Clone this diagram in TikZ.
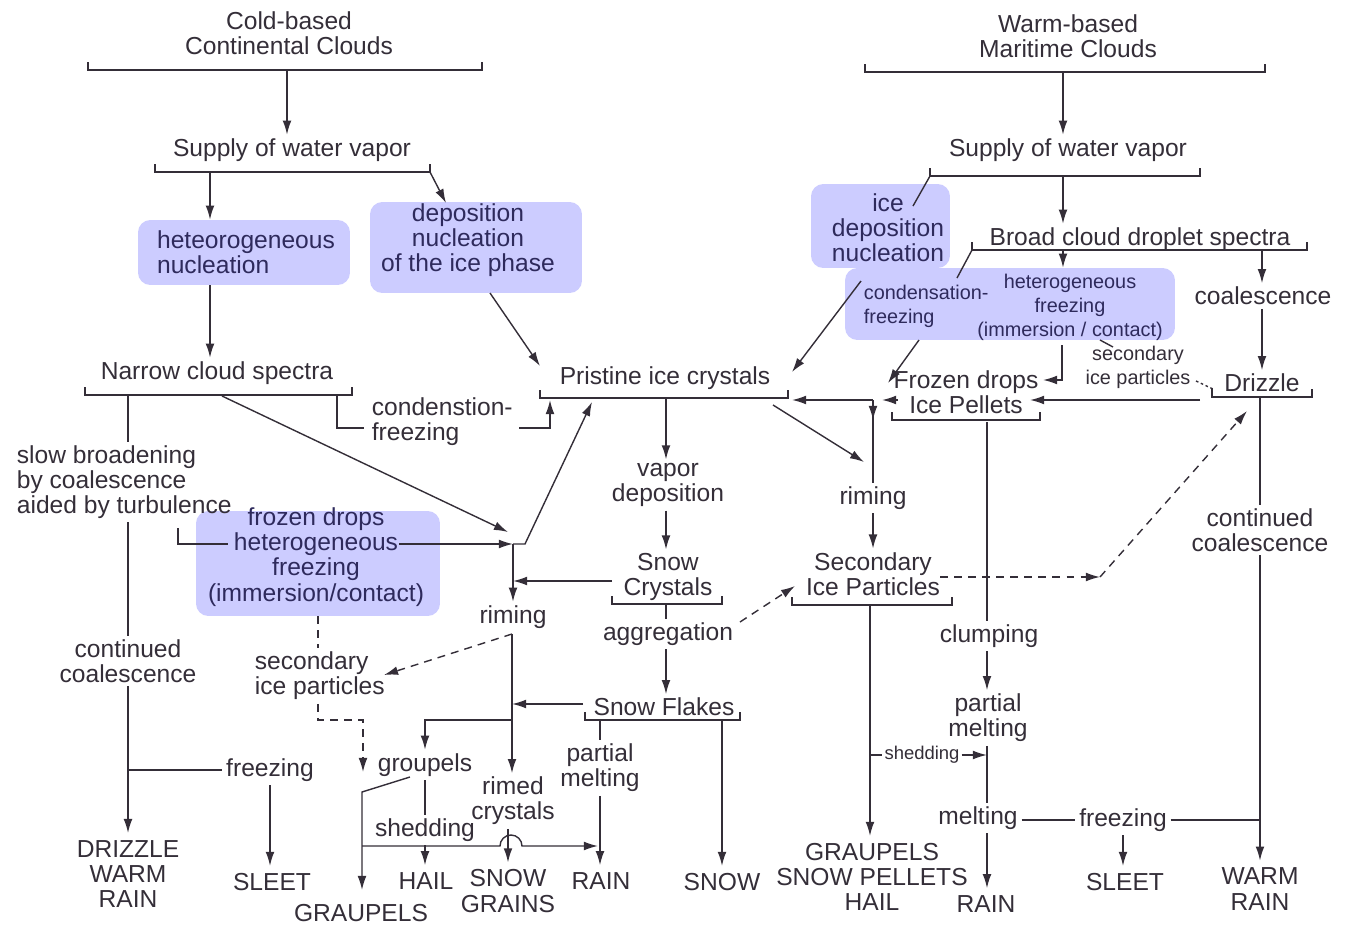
\documentclass[tikz,border=0pt]{standalone}
\usepackage{fontspec}
\setmainfont{Liberation Sans}
\usetikzlibrary{arrows.meta}

\definecolor{ink}{RGB}{52,46,56}
\definecolor{lav}{RGB}{204,204,255}
\definecolor{boxink}{RGB}{46,42,92}

\newcommand{\fsMain}{\fontsize{14}{14.3}\selectfont}
\newcommand{\fsSmall}{\fontsize{11.3}{13.6}\selectfont}
\newcommand{\fsTiny}{\fontsize{10.5}{11}\selectfont}
% bracket under a label: x-left, x-right, y of the bar
\newcommand{\brk}[3]{\draw[ln] (#1,#3-8) |- (#2,#3) -- (#2,#3-8);}

\begin{document}
\begin{tikzpicture}[
    x=0.02cm, y=-0.02cm,
    lbl/.style={text=ink, align=center, inner sep=2pt, font=\fsMain},
    sml/.style={lbl, font=\fsSmall},
    tny/.style={lbl, font=\fsTiny},
    res/.style={lbl, inner sep=4pt},
    btx/.style={lbl, text=boxink},
    bsm/.style={btx, font=\fsSmall},
    blu/.style={rectangle, rounded corners=7pt, fill=lav, draw=none, inner sep=0pt},
    ln/.style={draw=ink, line width=0.8pt},
    arr/.style={ln, -{Latex[length=8pt,width=5pt]}},
    darr/.style={arr, dash pattern=on 4.5pt off 3.5pt},
    dln/.style={ln, dash pattern=on 4.5pt off 3.5pt}
]
\useasboundingbox (0,0) rectangle (1347,927);

%% ── Shaded process boxes ─────────────────────────────────────────────────────
\node[blu, minimum width=4.24cm, minimum height=1.30cm] (hnbox)  at (244,252.5) {};
\node[blu, minimum width=4.24cm, minimum height=1.82cm] (dnbox)  at (476,247.5) {};
\node[blu, minimum width=4.88cm, minimum height=2.10cm] (fdhbox) at (318,563.5) {};
\node[blu, minimum width=2.78cm, minimum height=1.68cm] (idnbox) at (880.5,226) {};
\node[blu, minimum width=6.60cm, minimum height=1.44cm] (bigbox) at (1010,304) {};

%% ── Cold-based side (left) ───────────────────────────────────────────────────
\node[lbl] (cbc)  at (289,33)  {Cold-based\\Continental Clouds};
\node[lbl] (sup1) at (292,150) {Supply of water vapor};
\node[btx, align=left] (hn) at (246,252) {heteorogeneous\\nucleation};
\node[btx] (dn)   at (468,240) {deposition\\nucleation\\of the ice phase};
\node[lbl] (ncs)  at (217,373) {Narrow cloud spectra};
\node[lbl, align=left, anchor=west] (sbr) at (13,482) {slow broadening\\by coalescence\\aided by turbulence};
\node[lbl, align=left, anchor=west] (cf1) at (368,422) {condenstion-\\freezing};
\node[btx] (fdh)  at (316,557) {frozen drops\\heterogeneous\\freezing\\(immersion/contact)};
\node[lbl] (rim1) at (513,617) {riming};
\node[lbl, align=left, anchor=west] (sip1) at (251,676) {secondary\\ice particles};
\node[lbl] (cc1)  at (128,661) {continued\\coalescence};
\node[lbl] (frz1) at (270,770) {freezing};
\node[lbl] (grp)  at (425,765) {groupels};
\node[lbl] (rc)   at (513,801) {rimed\\crystals};
\node[lbl] (shd1) at (425,830) {shedding};
\node[lbl] (pm1)  at (600,768) {partial\\melting};

%% ── Middle column ────────────────────────────────────────────────────────────
\node[lbl] (pic)  at (665,378) {Pristine ice crystals};
\node[lbl] (vd)   at (668,485) {vapor\\deposition};
\node[lbl] (sc)   at (668,577) {Snow\\Crystals};
\node[lbl] (agg)  at (668,634) {aggregation};
\node[lbl] (sf)   at (664,707) {Snow Flakes};
\node[lbl] (rim2) at (873,498) {riming};
\node[lbl] (sip2) at (873,574) {Secondary\\Ice Particles};
\node[tny, fill=white, inner sep=1pt] (shd2) at (922,755) {shedding};

%% ── Warm-based side (right) ──────────────────────────────────────────────────
\node[lbl] (wbm)  at (1068,36)  {Warm-based\\Maritime Clouds};
\node[lbl] (sup2) at (1068,150) {Supply of water vapor};
\node[btx] (idn)  at (888,228)  {ice\\deposition\\nucleation};
\node[lbl] (bcd)  at (1140,239) {Broad cloud droplet spectra};
\node[bsm, align=left, anchor=west] (cfz) at (860,306) {condensation-\\freezing};
\node[bsm] (hfz)  at (1070,307) {heterogeneous\\freezing\\(immersion / contact)};
\node[lbl] (coal) at (1263,296) {coalescence};
\node[sml] (sip3) at (1138,367) {secondary\\ice particles};
\node[lbl] (drz)  at (1262,383) {Drizzle};
\node[lbl] (fdip) at (966,392)  {Frozen drops\\Ice Pellets};
\node[lbl] (clmp) at (989,636)  {clumping};
\node[lbl] (pm2)  at (988,718)  {partial\\melting};
\node[lbl] (melt) at (978,818)  {melting};
\node[lbl] (frz2) at (1123,820) {freezing};
\node[lbl] (ccl2) at (1260,530) {continued\\coalescence};

%% ── Precipitation types (bottom row) ─────────────────────────────────────────
\node[res] (dwr)   at (128,874)  {DRIZZLE\\WARM\\RAIN};
\node[res] (slt1)  at (272,882)  {SLEET};
\node[res] (gr1)   at (361,913)  {GRAUPELS};
\node[res] (hail)  at (426,881)  {HAIL};
\node[res] (sg)    at (508,891)  {SNOW\\GRAINS};
\node[res] (rain1) at (601,881)  {RAIN};
\node[res] (snow)  at (722,882)  {SNOW};
\node[res] (gsh)   at (872,877)  {GRAUPELS\\SNOW PELLETS\\HAIL};
\node[res] (rain2) at (986,904)  {RAIN};
\node[res] (slt2)  at (1125,882) {SLEET};
\node[res] (wr)    at (1260,889) {WARM\\RAIN};

%% ── Brackets ─────────────────────────────────────────────────────────────────
\brk{88}{482}{70}   \brk{155}{430}{172}  \brk{85}{352}{395}
\brk{540}{788}{398} \brk{612}{722}{604}  \brk{585}{740}{720}
\brk{792}{952}{605} \brk{865}{1265}{72}  \brk{930}{1200}{176}
\brk{972}{1307}{250} \brk{892}{1040}{420} \brk{1212}{1312}{397}

%% ── Connector end points ─────────────────────────────────────────────────────
\coordinate (cbc-b) at (287,70);   \coordinate (s1-l) at (210,172);  \coordinate (s1-r) at (430,172);
\coordinate (dn-in) at (446,203);  \coordinate (dn-out) at (490,293); \coordinate (pic-ul) at (540,366);
\coordinate (ncs-l) at (128,395);  \coordinate (ncs-m) at (222,396); \coordinate (ncs-r) at (337,395);
\coordinate (cf1-w) at (364,428);  \coordinate (cf1-e) at (519,428); \coordinate (pic-cf) at (550,400);
\coordinate (sbr-e) at (178,528);  \coordinate (fdh-w) at (228,544); \coordinate (fdh-e) at (399,544);
\coordinate (jr) at (513,544);     \coordinate (jr-e) at (525,544);  \coordinate (jr-in) at (508,532);
\coordinate (pic-ll) at (592,402); \coordinate (sc-w) at (612,581);
\coordinate (rm-b) at (512,634);   \coordinate (rm-g) at (512,720);  \coordinate (sip1-in) at (384,675);
\coordinate (fdh-s) at (318,616);  \coordinate (gr-x) at (363,720);  \coordinate (gr-d) at (363,772);
\coordinate (grp-sw) at (410,777); \coordinate (gr-k) at (362,792);  \coordinate (gr-o) at (362,890);
\coordinate (hz-l) at (362,846);   \coordinate (hz-h) at (500,846);  \coordinate (hz-r) at (598,846);
\coordinate (sf-w) at (583,704);   \coordinate (sf-l) at (600,720);  \coordinate (sf-r) at (722,720);
\coordinate (pic-m) at (666,398);  \coordinate (sc-m) at (666,604);
\coordinate (agg-e) at (740,622);  \coordinate (sip2-in) at (795,586);
\coordinate (pic-d) at (773,405);  \coordinate (rim2-in) at (864,462);
\coordinate (jx) at (873,400);     \coordinate (jx-a) at (873,420);  \coordinate (jx-b) at (882,400);
\coordinate (fdip-w) at (898,400); \coordinate (pic-r) at (792,400);
\coordinate (sip2-m) at (870,605); \coordinate (sip2-e) at (940,577);
\coordinate (dz-k) at (1100,577);  \coordinate (drz-in) at (1247,411);
\coordinate (wbm-b) at (1063,72);  \coordinate (s2-m) at (1063,176); \coordinate (s2-l) at (930,176);
\coordinate (idn-in) at (913,206);
\coordinate (bcd-l) at (972,250);  \coordinate (bcd-m) at (1063,250); \coordinate (bcd-r) at (1262,250);
\coordinate (cfz-in) at (957,278); \coordinate (idn-out) at (861,281); \coordinate (pic-ur) at (792,372);
\coordinate (cfz-out) at (919,340); \coordinate (fdip-in) at (888,383);
\coordinate (hfz-o) at (1062,345); \coordinate (fd-e) at (1043,380);
\coordinate (sp-a) at (1100,340);  \coordinate (sp-b) at (1113,347);
\coordinate (sip3-e) at (1196,381); \coordinate (drz-l) at (1213,389);
\coordinate (drz-w) at (1200,400); \coordinate (fdip-e) at (1030,400);
\coordinate (drz-m) at (1260,398); \coordinate (fdip-m) at (987,422);

%% ── Left side flow ───────────────────────────────────────────────────────────
\draw[arr] (cbc-b) -- (cbc-b |- sup1.north);
\draw[arr] (s1-l) -- (s1-l |- hnbox.north);
\draw[arr] (s1-r) -- (dn-in);
\draw[arr] (hnbox.south -| s1-l) -- (s1-l |- ncs.north);
\draw[arr] (dn-out) -- (pic-ul);
\draw[ln]  (ncs-l) -- (ncs-l |- sbr.north);
\draw[ln]  (sbr.south -| ncs-l) -- (ncs-l |- cc1.north);
\draw[arr] (cc1.south -| ncs-l) -- (ncs-l |- dwr.north);
\draw[ln]  (ncs-l |- frz1) -- (frz1.west);
\draw[arr] (frz1.south) -- (frz1.south |- slt1.north);
\draw[arr] (ncs-m) -- (jr-in);
\draw[ln]  (ncs-r) |- (cf1-w);
\draw[arr] (cf1-e) -| (pic-cf);
\draw[ln]  (sbr-e) |- (fdh-w);
\draw[arr] (fdh-e) -- (jr);
\draw[arr] (jr) -- (jr-e) -- (pic-ll);
\draw[arr] (jr) -- (jr |- rim1.north);
\draw[arr] (sc-w) -- (sc-w -| jr);
\draw[darr] (rm-b) -- (sip1-in);
\draw[arr] (rm-b) -- (rm-b |- rc.north);
\draw[arr] (sf-w) -- (sf-w -| rm-b);
\draw[arr] (rm-g) -| (grp.north);
\draw[dln] (fdh-s) -- (fdh-s |- sip1.north);
\draw[darr] (fdh-s |- sip1.south) |- (gr-x) -- (gr-d);
\draw[arr] (grp-sw) -- (gr-k) -- (gr-o);
\draw[ln]  (grp.south) -- (grp.south |- shd1.north);
\draw[arr] (shd1.south) -- (shd1.south |- hail.north);
\draw[arr] (hz-l) -- (hz-h) arc[start angle=180, end angle=0, radius=0.22cm] -- (hz-r);
\draw[arr] (rc.south -| sg) -- (sg.north);
\draw[ln]  (sf-l) -- (sf-l |- pm1.north);
\draw[arr] (pm1.south -| sf-l) -- (sf-l |- rain1.north);
\draw[arr] (sf-r) -- (sf-r |- snow.north);

%% ── Middle column flow ───────────────────────────────────────────────────────
\draw[arr] (pic-m) -- (pic-m |- vd.north);
\draw[arr] (vd.south -| pic-m) -- (pic-m |- sc.north);
\draw[ln]  (sc-m) -- (sc-m |- agg.north);
\draw[arr] (agg.south -| sc-m) -- (sc-m |- sf.north);
\draw[darr] (agg-e) -- (sip2-in);
\draw[arr] (pic-d) -- (rim2-in);
\draw[arr] (fdip-w) -- (jx-b);
\draw[arr] (jx) -- (pic-r);
\draw[ln]  (jx) -- (jx |- rim2.north);
\draw[arr] (jx) -- (jx-a);
\draw[arr] (rim2.south -| jx) -- (jx |- sip2.north);
\draw[arr] (sip2-m) -- (sip2-m |- gsh.north);
\draw[ln]  (sip2-m |- shd2) -- (shd2.west);
\draw[arr] (shd2.east) -- (fdip-m |- shd2);
\draw[darr] (sip2-e) -- (dz-k);
\draw[darr] (dz-k) -- (drz-in);

%% ── Right side flow ──────────────────────────────────────────────────────────
\draw[arr] (wbm-b) -- (wbm-b |- sup2.north);
\draw[arr] (s2-m) -- (s2-m |- bcd.north);
\draw[ln]  (s2-l) -- (idn-in);
\draw[arr] (bcd-m) -- (bcd-m |- bigbox.north);
\draw[arr] (bcd-r) -- (bcd-r |- coal.north);
\draw[ln]  (bcd-l) -- (cfz-in);
\draw[arr] (coal.south -| bcd-r) -- (bcd-r |- drz.north);
\draw[arr] (idn-out) -- (pic-ur);
\draw[arr] (cfz-out) -- (fdip-in);
\draw[arr] (hfz-o) |- (fd-e);
\draw[ln]  (sp-a) -- (sp-b);
\draw[ln, dash pattern=on 1.5pt off 1.5pt] (sip3-e) -- (drz-l);
\draw[arr] (drz-w) -- (fdip-e);
\draw[ln]  (drz-m) -- (drz-m |- ccl2.north);
\draw[arr] (ccl2.south -| drz-m) -- (drz-m |- wr.north);
\draw[ln]  (melt.east |- frz2.west) -- (frz2.west);
\draw[ln]  (frz2.east) -- (frz2.east -| drz-m);
\draw[arr] (frz2.south) -- (frz2.south |- slt2.north);
\draw[ln]  (fdip-m) -- (fdip-m |- clmp.north);
\draw[arr] (clmp.south -| fdip-m) -- (fdip-m |- pm2.north);
\draw[ln]  (pm2.south -| fdip-m) -- (fdip-m |- melt.north);
\draw[arr] (melt.south -| fdip-m) -- (fdip-m |- rain2.north);

\end{tikzpicture}
\end{document}
